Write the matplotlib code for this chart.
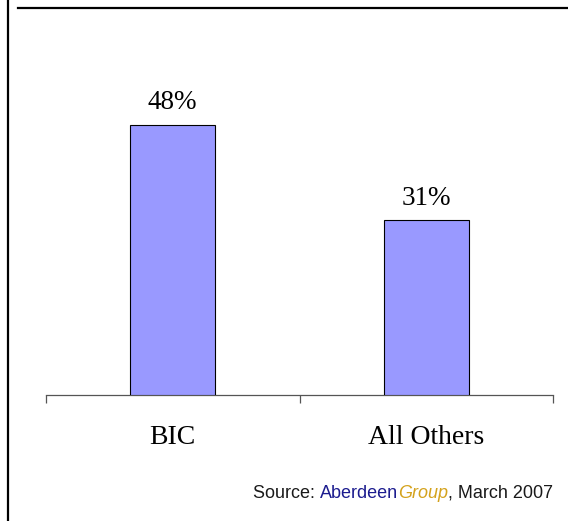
import matplotlib
matplotlib.use("Agg")
import matplotlib.pyplot as plt
from matplotlib.lines import Line2D

categories = ["BIC", "All Others"]
values = [48, 31]
value_labels = ["48%", "31%"]
source_parts = [("Source: ", "#1a1a1a", "normal"),
                ("Aberdeen", "#1c1c8f", "normal"),
                ("Group", "#d4a21c", "italic"),
                (", March 2007", "#1a1a1a", "normal")]

W, H, DPI = 568, 521, 100
fig = plt.figure(figsize=(W / DPI, H / DPI), dpi=DPI)
fig.patch.set_facecolor("white")

def fx(px):
    return px / W

def fy(py):
    return 1 - py / H

# panel frame: left rule and top rule
fig.add_artist(Line2D([fx(8), fx(8)], [0, 1], color="black", lw=1.6,
                      transform=fig.transFigure))
fig.add_artist(Line2D([fx(18), 1], [fy(7.5), fy(7.5)], color="black", lw=1.6,
                      transform=fig.transFigure))

ax = fig.add_axes([fx(46), fy(394.5), fx(553) - fx(46), fy(57) - fy(394.5)])
x = list(range(len(categories)))
ax.bar(x, values, width=0.335, color="#9999ff", edgecolor="black", linewidth=0.8,
       zorder=3)
ax.set_xlim(-0.5, len(categories) - 0.5)
ax.set_ylim(0, 60)

for s in ["top", "right", "left"]:
    ax.spines[s].set_visible(False)
ax.spines["bottom"].set_color("#555555")
ax.spines["bottom"].set_linewidth(0.9)
ax.set_yticks([])

ax.set_xticks([i - 0.5 for i in range(len(categories) + 1)])
ax.set_xticklabels([])
ax.tick_params(axis="x", which="major", length=6, width=0.9, color="#555555",
               direction="out")
ax.set_xticks(x, minor=True)
ax.set_xticklabels(categories, minor=True, fontfamily="Liberation Serif",
                   fontsize=20)
ax.tick_params(axis="x", which="minor", length=0, pad=22)

for xi, v, lab in zip(x, values, value_labels):
    ax.annotate(lab, xy=(xi, v), xytext=(0, 11), textcoords="offset points",
                ha="center", va="baseline", fontfamily="Liberation Serif",
                fontsize=19.5, color="black")

# source line, drawn piece by piece and right-aligned at x = 555 px
fig.canvas.draw()
renderer = fig.canvas.get_renderer()
src_font = "Liberation Sans"
base_size = 14
total = 0
for txt, col, style in source_parts:
    t = fig.text(0, 0, txt, fontstyle=style, fontfamily=src_font,
                 fontsize=base_size)
    total += t.get_window_extent(renderer=renderer).width
    t.remove()
size = base_size * 302 / total
cur_x = 555 - 302
for txt, col, style in source_parts:
    t = fig.text(fx(cur_x), fy(498), txt, color=col, fontstyle=style,
                 fontfamily=src_font, fontsize=size, ha="left", va="baseline")
    cur_x += t.get_window_extent(renderer=renderer).width

fig.savefig("out.png", dpi=DPI, facecolor="white")
